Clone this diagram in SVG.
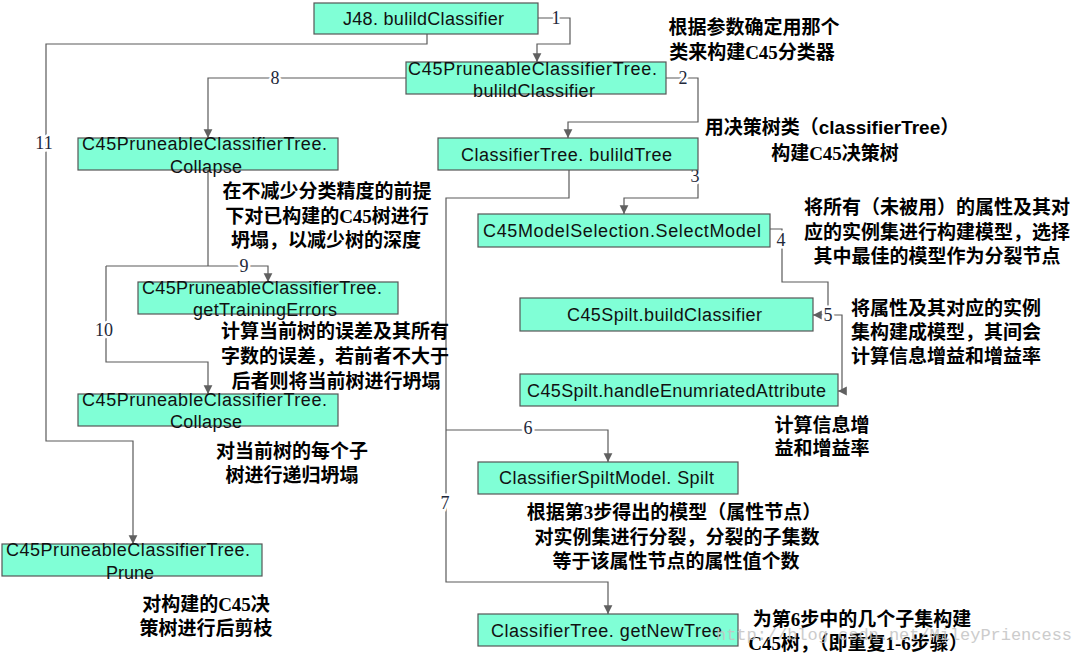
<svg xmlns="http://www.w3.org/2000/svg" width="1078" height="655" viewBox="0 0 1078 655">
<defs>
<marker id="arr" markerUnits="userSpaceOnUse" markerWidth="11" markerHeight="11" viewBox="0 0 10 10" refX="9" refY="5" orient="auto">
<path d="M1,1 L9,5 L1,9 Z" fill="#606060"/>
</marker>
</defs>
<style>
.box{fill:#80FFD6;stroke:#555;stroke-width:1.2}
.nt{font-family:"Liberation Sans",Arial,sans-serif;font-size:18px;fill:#111;text-anchor:middle}
.ln{fill:none;stroke:#5a5a5a;stroke-width:1.2}
.ar{marker-end:url(#arr)}
.lb{font-family:"Liberation Serif","Times New Roman",serif;font-size:18px;fill:#22283a;text-anchor:middle;stroke:#fff;stroke-width:5;paint-order:stroke}
.cn{font-family:"Liberation Serif","Noto Sans CJK SC",serif;font-size:19px;font-weight:bold;fill:#000;text-anchor:middle}
.wm{font-family:"Liberation Mono","Courier New",monospace;font-size:17px;fill:#c4c4c4;opacity:0.85}
</style>
<rect width="1078" height="655" fill="#fff"/>
<g id="connectors">
<path class="ln ar" d="M538,18 H570 V44 H537 V62"/>
<path class="ln ar" d="M427,34 V44 H46 V441 H133 V544"/>
<path class="ln ar" d="M666,78 H698 V122 H568 V138"/>
<path class="ln ar" d="M406,78 H208 V138"/>
<path class="ln ar" d="M698,170 V198 H624 V214"/>
<path class="ln ar" d="M569,170 V198 H446 V582 H608 V614"/>
<path class="ln ar" d="M446,430 H608 V462"/>
<path class="ln ar" d="M770,229 H782 V282 H828 V315 H813"/>
<path class="ln ar" d="M828,315 H842 V391 H838"/>
<path class="ln" d="M208,170 V266"/>
<path class="ln ar" d="M106,266 H268 V282"/>
<path class="ln ar" d="M106,266 V362 H208 V394"/>
<text class="lb" x="556" y="24">1</text>
<text class="lb" x="683" y="84">2</text>
<text class="lb" x="695" y="182">3</text>
<text class="lb" x="781" y="246">4</text>
<text class="lb" x="828" y="321">5</text>
<text class="lb" x="528" y="434">6</text>
<text class="lb" x="445" y="509">7</text>
<text class="lb" x="275" y="84">8</text>
<text class="lb" x="244" y="272">9</text>
<text class="lb" x="104" y="336">10</text>
<text class="lb" x="44" y="149">11</text>
</g>
<g id="n1"><rect class="box" x="314" y="3" width="224" height="31"/><text class="nt" x="423.5" y="25" textLength="161" lengthAdjust="spacing">J48. bulildClassifier</text></g>
<g id="n2"><rect class="box" x="406" y="62" width="260" height="32"/><text class="nt" x="532.5" y="75" textLength="249" lengthAdjust="spacing">C45PruneableClassifierTree.</text><text class="nt" x="534" y="97" textLength="122" lengthAdjust="spacing">bulildClassifier</text></g>
<g id="n3"><rect class="box" x="438" y="138" width="260" height="32"/><text class="nt" x="566.5" y="161" textLength="211" lengthAdjust="spacing">ClassifierTree. bulildTree</text></g>
<g id="n4"><rect class="box" x="78" y="138" width="260" height="32"/><text class="nt" x="204.5" y="150" textLength="245" lengthAdjust="spacing">C45PruneableClassifierTree.</text><text class="nt" x="206" y="173" textLength="72" lengthAdjust="spacing">Collapse</text></g>
<g id="n5"><rect class="box" x="478" y="214" width="292" height="33"/><text class="nt" x="622" y="237" textLength="278" lengthAdjust="spacing">C45ModelSelection.SelectModel</text></g>
<g id="n6"><rect class="box" x="138" y="282" width="260" height="32"/><text class="nt" x="262" y="294" textLength="240" lengthAdjust="spacing">C45PruneableClassifierTree.</text><text class="nt" x="265" y="316" textLength="144" lengthAdjust="spacing">getTrainingErrors</text></g>
<g id="n7"><rect class="box" x="78" y="394" width="260" height="32"/><text class="nt" x="204.5" y="406" textLength="245" lengthAdjust="spacing">C45PruneableClassifierTree.</text><text class="nt" x="206" y="428" textLength="72" lengthAdjust="spacing">Collapse</text></g>
<g id="n8"><rect class="box" x="520" y="298" width="293" height="33"/><text class="nt" x="664.5" y="321" textLength="195" lengthAdjust="spacing">C45Spilt.buildClassifier</text></g>
<g id="n9"><rect class="box" x="520" y="374" width="318" height="32"/><text class="nt" x="676.5" y="397" textLength="299" lengthAdjust="spacing">C45Spilt.handleEnumriatedAttribute</text></g>
<g id="n10"><rect class="box" x="478" y="462" width="260" height="32"/><text class="nt" x="606.5" y="484" textLength="215" lengthAdjust="spacing">ClassifierSpiltModel. Spilt</text></g>
<g id="n11"><rect class="box" x="2" y="544" width="260" height="32"/><text class="nt" x="128" y="556" textLength="244" lengthAdjust="spacing">C45PruneableClassifierTree.</text><text class="nt" x="130" y="579" textLength="48" lengthAdjust="spacing">Prune</text></g>
<g id="n12"><rect class="box" x="478" y="614" width="260" height="32"/><text class="nt" x="606.5" y="637" textLength="231" lengthAdjust="spacing">ClassifierTree. getNewTree</text></g>
<g id="notes">
<text class="cn" x="754" y="34">根据参数确定用那个</text>
<text class="cn" x="752" y="59">类来构建C45分类器</text>
<text class="cn" x="832" y="134">用决策树类（<tspan font-family="Liberation Sans,sans-serif">classifierTree</tspan>）</text>
<text class="cn" x="835" y="160">构建C45决策树</text>
<text class="cn" x="327" y="198">在不减少分类精度的前提</text>
<text class="cn" x="327" y="223">下对已构建的C45树进行</text>
<text class="cn" x="326" y="247">坍塌，以减少树的深度</text>
<text class="cn" x="937" y="214">将所有（未被用）的属性及其对</text>
<text class="cn" x="937" y="239">应的实例集进行构建模型，选择</text>
<text class="cn" x="937" y="263">其中最佳的模型作为分裂节点</text>
<text class="cn" x="946" y="315">将属性及其对应的实例</text>
<text class="cn" x="946" y="339">集构建成模型，其间会</text>
<text class="cn" x="946" y="363">计算信息增益和增益率</text>
<text class="cn" x="335" y="338">计算当前树的误差及其所有</text>
<text class="cn" x="335" y="363">字数的误差，若前者不大于</text>
<text class="cn" x="336" y="388">后者则将当前树进行坍塌</text>
<text class="cn" x="292" y="458">对当前树的每个子</text>
<text class="cn" x="292" y="482">树进行递归坍塌</text>
<text class="cn" x="822" y="432">计算信息增</text>
<text class="cn" x="822" y="455">益和增益率</text>
<text class="cn" x="674" y="519">根据第3步得出的模型（属性节点）</text>
<text class="cn" x="677" y="544">对实例集进行分裂，分裂的子集数</text>
<text class="cn" x="676" y="568">等于该属性节点的属性值个数</text>
<text class="cn" x="206" y="611">对构建的C45决</text>
<text class="cn" x="206" y="635">策树进行后剪枝</text>
<text class="cn" x="862" y="626">为第6步中的几个子集构建</text>
<text class="cn" x="858" y="650">C45树，（即重复1-6步骤）</text>
</g>
<text class="wm" x="716" y="640" textLength="356" lengthAdjust="spacing">http://blog.csdn.net/MileyPriencess</text>
</svg>
